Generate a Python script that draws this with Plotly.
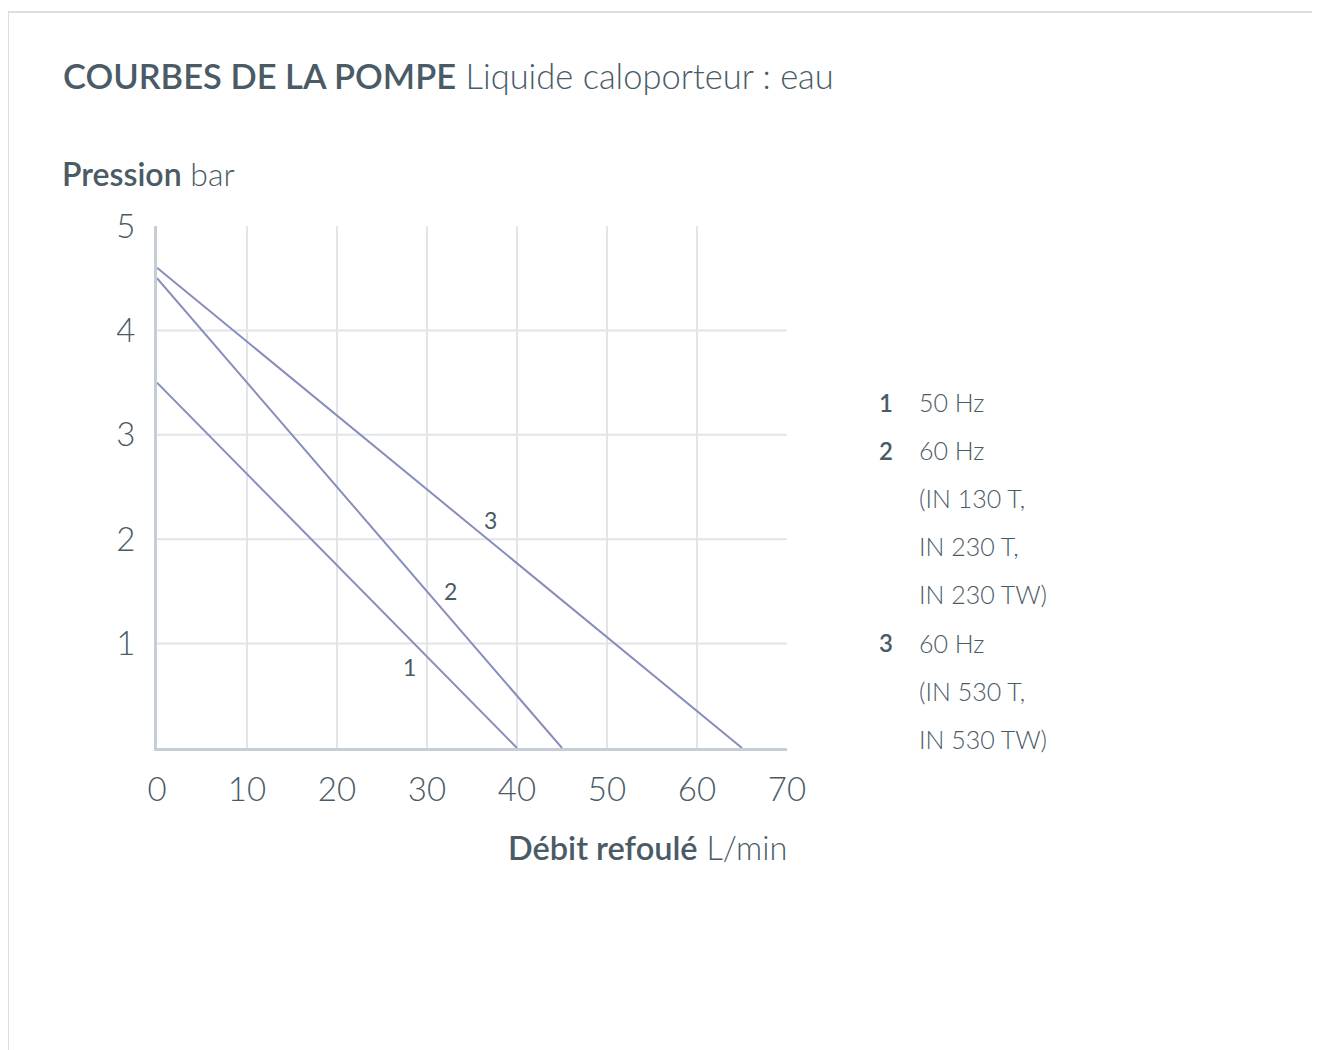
import plotly.graph_objects as go

# ---- data ----
flow_1 = [0, 40]
pressure_1 = [3.5, 0]
flow_2 = [0, 45]
pressure_2 = [4.5, 0]
flow_3 = [0, 65]
pressure_3 = [4.6, 0]

curve_names = ["1", "2", "3"]
label_flow = [28.0, 32.6, 37.0]
label_pressure = [0.78, 1.5, 2.18]

x_ticks = [0, 10, 20, 30, 40, 50, 60, 70]
y_ticks = [1, 2, 3, 4, 5]

legend_keys = ["1", "2", "", "", "", "3", "", ""]
legend_texts = ["50 Hz", "60 Hz", "(IN 130 T,", "IN 230 T,", "IN 230 TW)",
                "60 Hz", "(IN 530 T,", "IN 530 TW)"]

# ---- style ----
TEXT = "#4a5b66"
LINE = "#878dbd"
GRID = "#e2e4e7"
AXIS = "#c6cdd5"
FONT = "Lato"

OFF = 8  # page body margin
W, H = 1320 - OFF, 1050 - OFF
L, R, T, B = 157 - OFF, 787 - OFF, 226 - OFF, 748 - OFF  # plot area in figure pixels


def px_x(p):
    return (p - OFF - L) / (R - L)


def px_y(p):
    return (B - (p - OFF)) / (B - T)


fig = go.Figure()
for fx, py in [(flow_1, pressure_1), (flow_2, pressure_2), (flow_3, pressure_3)]:
    fig.add_trace(go.Scatter(x=fx, y=py, mode="lines",
                             line=dict(color=LINE, width=2),
                             hoverinfo="skip", showlegend=False))

shapes = []
for yv in y_ticks[:-1]:
    shapes.append(dict(type="line", xref="x", yref="y", x0=x_ticks[0], x1=x_ticks[-1],
                       y0=yv, y1=yv, line=dict(color=GRID, width=2), layer="below"))
for xv in x_ticks[1:-1]:
    shapes.append(dict(type="line", xref="x", yref="y", x0=xv, x1=xv,
                       y0=0, y1=y_ticks[-1], line=dict(color=GRID, width=2), layer="below"))
# outer frame (top and left edges)
shapes.append(dict(type="line", xref="paper", yref="paper", x0=px_x(0), x1=px_x(1320),
                   y0=px_y(12), y1=px_y(12), line=dict(color="#dddddd", width=2)))
shapes.append(dict(type="line", xref="paper", yref="paper", x0=px_x(8), x1=px_x(8),
                   y0=px_y(12), y1=px_y(1050), line=dict(color="#dddddd", width=2)))

ann = []
# curve labels
for name, fx, py in zip(curve_names, label_flow, label_pressure):
    ann.append(dict(x=fx, y=py, xref="x", yref="y", text=name, showarrow=False,
                    font=dict(family=FONT, size=23, color=TEXT)))
# title
ann.append(dict(x=px_x(61), y=px_y(75), xref="paper", yref="paper", xanchor="left", yanchor="middle",
                showarrow=False,
                text="<span style='font-weight:600'>COURBES DE LA POMPE</span> Liquide caloporteur : eau",
                font=dict(family=FONT, size=34.5, color=TEXT, weight=300)))
ann.append(dict(x=px_x(60), y=px_y(173), xref="paper", yref="paper", xanchor="left", yanchor="middle",
                showarrow=False,
                text="<span style='font-weight:600'>Pression</span> bar",
                font=dict(family=FONT, size=32, color=TEXT, weight=300)))
ann.append(dict(x=px_x(789), y=px_y(847), xref="paper", yref="paper", xanchor="right", yanchor="middle",
                showarrow=False,
                text="<span style='font-weight:600'>Débit refoulé</span> L/min",
                font=dict(family=FONT, size=32.5, color=TEXT, weight=300)))
# legend
for i, (k, t) in enumerate(zip(legend_keys, legend_texts)):
    yp = 402 + i * 48.1
    if k:
        ann.append(dict(x=px_x(886), y=px_y(yp), xref="paper", yref="paper", xanchor="center",
                        yanchor="middle", showarrow=False, text=k,
                        font=dict(family=FONT, size=24, color=TEXT, weight=600)))
    ann.append(dict(x=px_x(917), y=px_y(yp), xref="paper", yref="paper", xanchor="left",
                    yanchor="middle", showarrow=False, text=t,
                    font=dict(family=FONT, size=25, color=TEXT, weight=300)))

fig.update_layout(
    width=W, height=H,
    margin=dict(l=L, r=W - R, t=T, b=H - B, pad=0),
    paper_bgcolor="white", plot_bgcolor="white",
    shapes=shapes, annotations=ann,
    xaxis=dict(range=[x_ticks[0], x_ticks[-1]], tickvals=x_ticks, showgrid=False, zeroline=False,
               showline=True, linecolor=AXIS, linewidth=3, ticks="", ticklabelstandoff=10,
               tickfont=dict(family=FONT, size=33, color=TEXT, weight=300), fixedrange=True),
    yaxis=dict(range=[0, y_ticks[-1]], tickvals=y_ticks, showgrid=False, zeroline=False,
               showline=True, linecolor=AXIS, linewidth=3, ticks="", ticklabelstandoff=12,
               tickfont=dict(family=FONT, size=33, color=TEXT, weight=300), fixedrange=True),
)

fig.write_html("out.html", config={"displayModeBar": False})
